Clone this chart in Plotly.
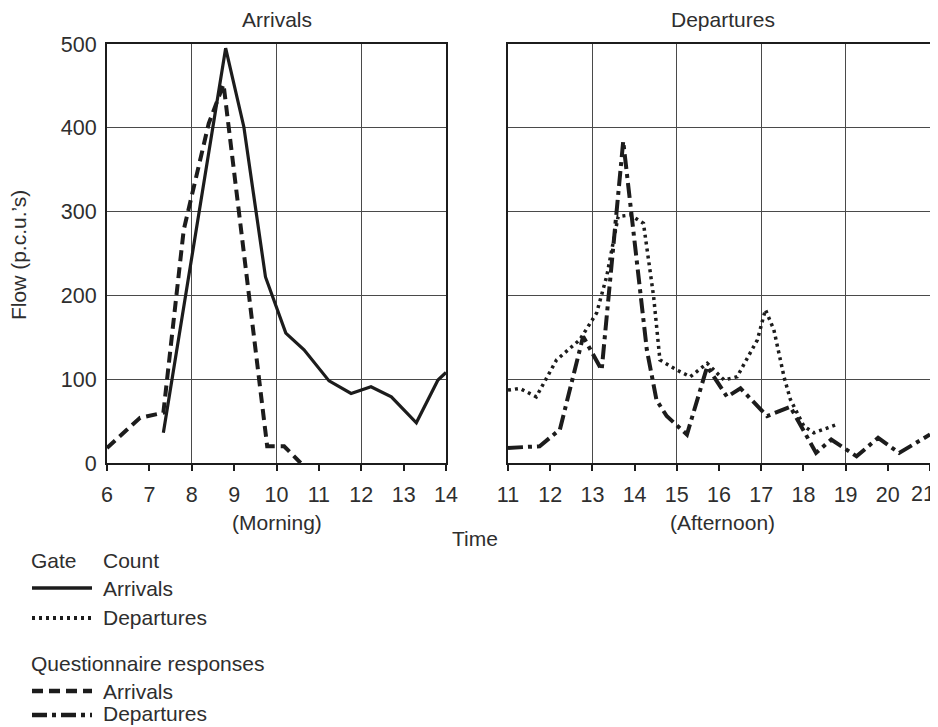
import plotly.graph_objects as go

# ---------------- data ----------------
# Morning panel (hours)
gate_arr_t = [7.33, 8.80, 9.23, 9.74, 10.22, 10.65, 11.24, 11.76, 12.23, 12.71, 13.30, 13.81, 14.0]
gate_arr_v = [36, 495, 401, 222, 155, 135, 98, 83, 91, 79, 48, 99, 108]

quest_arr_t = [6.0, 6.78, 7.33, 7.81, 8.40, 8.75, 9.78, 10.18, 10.57]
quest_arr_v = [18, 54, 60, 278, 405, 452, 20, 20, 0]

# Afternoon panel (hours)
gate_dep_t = [11.0, 11.28, 11.67, 12.15, 12.70, 13.10, 13.34, 13.61, 13.90, 14.21, 14.45, 14.60,
              15.0, 15.32, 15.72, 16.12, 16.43, 16.91, 17.10, 17.30, 17.54, 17.69, 18.01, 18.25, 18.80]
gate_dep_v = [87, 89, 79, 123, 147, 179, 223, 294, 296, 286, 199, 123,
              111, 103, 119, 99, 103, 147, 183, 159, 103, 76, 44, 36, 46]

quest_dep_t = [11.0, 11.75, 12.23, 12.78, 13.22, 13.73, 14.29, 14.52, 14.76, 15.24, 15.72, 16.19,
               16.51, 17.14, 17.69, 18.30, 18.66, 19.26, 19.77, 20.27, 21.0]
quest_dep_v = [18, 20, 40, 151, 111, 384, 135, 75, 56, 34, 115, 79,
               89, 56, 67, 12, 28, 8, 30, 12, 34]

morning_ticks = list(range(6, 15))
afternoon_ticks = list(range(11, 22))
afternoon_labels = [str(h) for h in afternoon_ticks]
flow_ticks = [0, 100, 200, 300, 400, 500]

# ---------------- styling ----------------
FONT = "Liberation Sans, Arial, sans-serif"
TXT = "#2e2e2e"
INK = "#1c1c1c"
GRID = "#4a4a4a"
FS = 21
TFS = 21.5

W, H = 938, 727
OFF = 8  # page body margin


def px_x(p):
    return (p - OFF) / W


def px_y(p):
    return 1 - (p - OFF) / H


dom_left = [px_x(107), px_x(446)]
dom_right = [px_x(508), px_x(930)]
dom_y = [px_y(463), px_y(44)]

STY = {
    "gate_arr": dict(color=INK, width=3.2),
    "gate_dep": dict(color=INK, width=3.5, dash="3px,4px"),
    "quest_arr": dict(color=INK, width=4, dash="11px,6px"),
    "quest_dep": dict(color=INK, width=4, dash="15px,5px,4px,5px"),
}

fig = go.Figure()
fig.add_trace(go.Scatter(x=quest_arr_t, y=quest_arr_v, mode="lines", line=STY["quest_arr"],
                         xaxis="x", yaxis="y", showlegend=False, hoverinfo="skip"))
fig.add_trace(go.Scatter(x=gate_arr_t, y=gate_arr_v, mode="lines", line=STY["gate_arr"],
                         xaxis="x", yaxis="y", showlegend=False, hoverinfo="skip"))
fig.add_trace(go.Scatter(x=gate_dep_t, y=gate_dep_v, mode="lines", line=STY["gate_dep"],
                         xaxis="x2", yaxis="y2", showlegend=False, hoverinfo="skip"))
fig.add_trace(go.Scatter(x=quest_dep_t, y=quest_dep_v, mode="lines", line=STY["quest_dep"],
                         xaxis="x2", yaxis="y2", showlegend=False, hoverinfo="skip"))
# invisible helpers so that the hourly tick axes are drawn
fig.add_trace(go.Scatter(x=gate_arr_t, y=gate_arr_v, mode="lines", opacity=0,
                         xaxis="x3", yaxis="y", showlegend=False, hoverinfo="skip"))
fig.add_trace(go.Scatter(x=gate_dep_t, y=gate_dep_v, mode="lines", opacity=0,
                         xaxis="x4", yaxis="y2", showlegend=False, hoverinfo="skip"))

frame = dict(showline=True, mirror=True, linecolor=INK, linewidth=2, automargin=False)

grid_x = dict(showgrid=True, gridcolor=GRID, gridwidth=1.2, showticklabels=False,
              ticks="", zeroline=False, **frame)
tick_x = dict(showgrid=False, showline=False, zeroline=False, ticks="outside", ticklen=7,
              tickwidth=1.5, tickcolor=INK, tickfont=dict(family=FONT, size=TFS, color=TXT),
              ticklabelstandoff=5, automargin=False)

# the last afternoon label sits at the very page edge; it is written as a text
# annotation below so that it is not clipped
aft_text = afternoon_labels[:-1] + [""]

fig.update_layout(
    template="none",
    width=W, height=H, autosize=False,
    margin=dict(l=0, r=0, t=0, b=0, pad=0),
    paper_bgcolor="white", plot_bgcolor="white",
    font=dict(family=FONT, size=FS, color=TXT),
    showlegend=False,
    xaxis=dict(domain=dom_left, range=[6, 14], tick0=6, dtick=2, anchor="y", **grid_x),
    xaxis3=dict(domain=dom_left, range=[6, 14], tickvals=morning_ticks, overlaying="x",
                anchor="y", side="bottom", **tick_x),
    xaxis2=dict(domain=dom_right, range=[11, 21], tick0=11, dtick=2, anchor="y2", **grid_x),
    xaxis4=dict(domain=dom_right, range=[11, 21], tickvals=afternoon_ticks, ticktext=aft_text,
                overlaying="x2", anchor="y2", side="bottom", **tick_x),
    yaxis=dict(domain=dom_y, range=[0, 500], tickvals=flow_ticks, showgrid=True, gridcolor=GRID,
               gridwidth=1.2, zeroline=False, ticks="", ticklabelstandoff=4, anchor="x",
               tickfont=dict(family=FONT, size=TFS, color=TXT), **frame),
    yaxis2=dict(domain=dom_y, range=[0, 500], tickvals=flow_ticks, showgrid=True, gridcolor=GRID,
                gridwidth=1.2, zeroline=False, ticks="", showticklabels=False, anchor="x2", **frame),
)

ann = []


def text(s, x, y, xanchor="center", angle=0, size=FS):
    ann.append(dict(text=s, x=px_x(x), y=px_y(y), xref="paper", yref="paper",
                    xanchor=xanchor, yanchor="middle", showarrow=False, textangle=angle,
                    font=dict(family=FONT, size=size, color=TXT)))


text("Arrivals", 277, 20)
text("Departures", 723, 20)
text("(Morning)", 277, 522)
text("(Afternoon)", 722, 522)
text("Time", 475, 538)
text("Flow (p.c.u.’s)", 18, 255, angle=-90)
text(afternoon_labels[-1], 937, 494, xanchor="right", size=TFS)

text("Gate", 29, 560, xanchor="left")
text("Count", 101, 560, xanchor="left")
text("Arrivals", 101, 588, xanchor="left")
text("Departures", 101, 617, xanchor="left")
text("Questionnaire responses", 29, 663, xanchor="left")
text("Arrivals", 101, 691, xanchor="left")
text("Departures", 101, 713, xanchor="left")

fig.update_layout(annotations=ann)

shapes = []
for key, yy in [("gate_arr", 588), ("gate_dep", 618), ("quest_arr", 691), ("quest_dep", 715)]:
    st = STY[key]
    shapes.append(dict(type="line", xref="paper", yref="paper", x0=px_x(32), x1=px_x(92),
                       y0=px_y(yy), y1=px_y(yy),
                       line=dict(color=st["color"], width=st["width"] + 0.5,
                                 dash=st.get("dash", "solid"))))
fig.update_layout(shapes=shapes)

fig.write_html("out.html")
